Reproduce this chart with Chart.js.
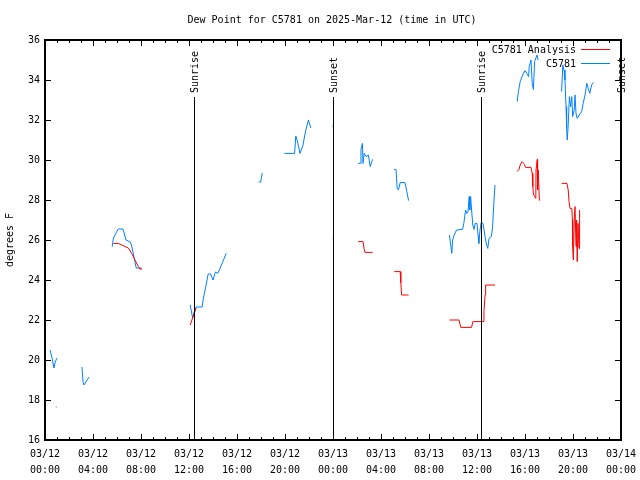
<!DOCTYPE html>
<html>
<head>
<meta charset="utf-8">
<script src="https://cdn.jsdelivr.net/npm/chart.js@4.4.1/dist/chart.umd.min.js"></script>
<style>
  html, body { margin: 0; padding: 0; background: #fff; }
  #wrap { width: 640px; height: 480px; }
</style>
</head>
<body>
<div id="wrap"><canvas id="dewChart" width="640" height="480"></canvas></div>
<script>
// hours since 03/12 00:00 UTC, null breaks the line
const analysisHours = [0.9, 0.97, 0.97,
  5.7, 6.1, 6.4, 6.67, 6.95, 7.22, 7.5, 7.78, 7.9, 8.1, 8.1,
  12.1, 12.3, 12.6, 12.6,
  23.98, 24.03, 24.03,
  26.1, 26.5, 26.6, 26.67, 27.3, 27.3,
  29.1, 29.6, 29.65, 29.72, 30.3, 30.3,
  33.7, 34.5, 34.65, 35.55, 35.65, 36.5, 36.58, 36.67, 36.72, 37.5, 37.5,
  39.35, 39.5, 39.6, 39.75, 39.9, 40.05, 40.5, 40.6, 40.65, 40.7, 40.8, 40.9, 40.92, 41.02, 41.05, 41.1, 41.2, 41.2,
  43.05, 43.5, 43.6, 43.67, 43.75, 43.9, 43.95, 43.97, 44.03, 44.1, 44.17, 44.25, 44.3, 44.35, 44.42, 44.5, 44.55];
const analysisDew = [17.65, 17.65, null,
  25.83, 25.83, 25.75, 25.67, 25.6, 25.33, 25.0, 24.67, 24.55, 24.55, null,
  21.75, 22.1, 22.6, null,
  26.1, 26.1, null,
  25.92, 25.92, 25.53, 25.38, 25.38, null,
  24.42, 24.42, 23.87, 23.25, 23.25, null,
  22.0, 22.0, 21.63, 21.63, 21.92, 21.92, 22.42, 23.25, 23.75, 23.75, null,
  29.42, 29.53, 29.75, 29.92, 29.83, 29.63, 29.63, 29.33, 28.67, 28.3, 28.17, 28.08, 29.5, 30.03, 28.5, 29.5, 27.97, null,
  28.83, 28.83, 28.5, 27.92, 27.58, 27.58, 27.0, 25.67, 25.0, 27.0, 27.67, 25.67, 27.0, 24.92, 26.83, 25.58, 27.5];

const obsHours = [0.42, 0.55, 0.65, 0.75, 0.85, 1.0, 1.0,
  3.08, 3.17, 3.25, 3.4, 3.67, 3.67,
  5.6, 5.7, 5.83, 6.1, 6.5, 6.75, 7.1, 7.2, 7.35, 7.6, 8.05, 8.05,
  12.1, 12.3, 12.4, 12.6, 13.1, 13.2, 13.4, 13.6, 13.8, 14.0, 14.2, 14.4, 14.6, 15.1, 15.1,
  17.8, 17.97, 18.1, 18.1,
  19.95, 20.8, 20.9, 21.05, 21.25, 21.5, 21.7, 21.95, 22.15, 22.15,
  23.95, 24.1, 24.1,
  26.1, 26.3, 26.33, 26.45, 26.5, 26.6, 26.75, 26.95, 27.1, 27.3, 27.3,
  29.1, 29.25, 29.35, 29.45, 29.6, 30.0, 30.15, 30.3, 30.3,
  33.7, 33.9, 33.97, 34.1, 34.3, 34.8, 34.9, 35.05, 35.15, 35.25, 35.35, 35.4, 35.47, 35.55, 35.65, 35.75, 35.85, 36.0, 36.1, 36.15, 36.25, 36.35, 36.5, 36.67, 36.8, 36.9, 37.0, 37.2, 37.3, 37.4, 37.5, 37.5,
  39.35, 39.45, 39.6, 39.8, 40.0, 40.15, 40.3, 40.35, 40.5, 40.6, 40.7, 40.8, 41.0, 41.1, 41.1,
  43.05, 43.15, 43.25, 43.33, 43.42, 43.47, 43.52, 43.6, 43.7, 43.8, 43.9, 43.97, 44.1, 44.17, 44.25, 44.35, 44.52, 44.72, 44.85, 45.0, 45.15, 45.27, 45.4, 45.55, 45.7];
const obsDew = [20.5, 20.2, 19.9, 19.6, 19.9, 20.1, null,
  19.65, 18.9, 18.75, 18.9, 19.15, null,
  25.67, 26.1, 26.25, 26.55, 26.55, 26.0, 25.9, 25.75, 25.35, 24.6, 24.6, null,
  22.75, 22.1, 22.35, 22.65, 22.65, 23.1, 23.67, 24.3, 24.3, 24.0, 24.4, 24.33, 24.6, 25.33, null,
  28.9, 28.9, 29.35, null,
  30.33, 30.33, 31.2, 30.9, 30.33, 30.75, 31.4, 32.0, 31.6, null,
  31.7, 31.7, null,
  29.83, 29.83, 30.53, 30.83, 29.83, 30.33, 30.17, 30.25, 29.67, 30.03, null,
  29.53, 29.53, 28.58, 28.5, 28.87, 28.87, 28.42, 27.97, null,
  26.25, 25.33, 26.0, 26.25, 26.5, 26.53, 26.83, 27.5, 27.33, 27.42, 28.17, 27.5, 28.17, 27.5, 26.75, 26.53, 26.83, 26.83, 26.17, 25.83, 26.5, 26.87, 26.83, 26.17, 25.75, 25.58, 26.08, 26.17, 26.67, 27.83, 28.75, null,
  32.92, 33.42, 33.92, 34.25, 34.47, 34.33, 34.17, 34.67, 35.0, 33.83, 33.53, 34.92, 35.25, 35.0, null,
  33.42, 34.75, 34.5, 34.0, 32.67, 31.58, 31.0, 31.75, 33.17, 32.67, 33.17, 32.17, 32.5, 33.25, 32.33, 32.08, 32.25, 32.42, 32.83, 33.25, 33.83, 33.58, 33.33, 33.75, 33.88];

const sunHours = [12.42, 24.0, 36.33, 48.0];
const sunLabels = ['Sunrise', 'Sunset', 'Sunrise', 'Sunset'];
const dayLabels = ['03/12', '03/12', '03/12', '03/12', '03/12', '03/12', '03/13', '03/13', '03/13', '03/13', '03/13', '03/13', '03/14'];
const timeLabels = ['00:00', '04:00', '08:00', '12:00', '16:00', '20:00', '00:00', '04:00', '08:00', '12:00', '16:00', '20:00', '00:00'];
const seriesNames = ['C5781 Analysis', 'C5781'];
const seriesColors = ['#ff0000', '#0080ff'];

const FONT = '10px "DejaVu Sans Mono", monospace';

function toPoints(hours, vals) {
  return hours.map((h, i) => ({ x: h, y: vals[i] }));
}

const framePlugin = {
  id: 'frame',
  afterDatasetsDraw(chart) {
    const { ctx, chartArea: a, scales } = chart;
    const xs = scales.x, ys = scales.y;
    ctx.save();
    ctx.strokeStyle = '#000';
    ctx.lineWidth = 1;
    ctx.beginPath();
    // hourly ticks top and bottom
    for (let h = 0; h <= 48; h++) {
      const px = Math.round(xs.getPixelForValue(h)) + 0.5;
      const len = h % 4 === 0 ? 6 : 3;
      ctx.moveTo(px, a.bottom); ctx.lineTo(px, a.bottom - len);
      ctx.moveTo(px, a.top); ctx.lineTo(px, a.top + len);
    }
    for (let v = 16; v <= 36; v += 2) {
      const py = Math.round(ys.getPixelForValue(v)) + 0.5;
      ctx.moveTo(a.left, py); ctx.lineTo(a.left + 6, py);
      ctx.moveTo(a.right, py); ctx.lineTo(a.right - 6, py);
    }
    ctx.stroke();
    ctx.lineWidth = 2;
    ctx.strokeRect(a.left, a.top, a.right - a.left, a.bottom - a.top);

    // sunrise / sunset markers
    ctx.font = FONT;
    ctx.fillStyle = '#000';
    ctx.lineWidth = 1;
    sunHours.forEach((h, i) => {
      const px = Math.round(xs.getPixelForValue(h)) + 0.5;
      ctx.beginPath();
      ctx.moveTo(px, 97); ctx.lineTo(px, a.bottom);
      ctx.stroke();
      ctx.save();
      ctx.translate(px, 93);
      ctx.rotate(-Math.PI / 2);
      ctx.textAlign = 'left';
      ctx.textBaseline = 'middle';
      ctx.fillText(sunLabels[i], 0, 1);
      ctx.restore();
    });

    // legend, text then line
    ctx.textAlign = 'right';
    ctx.textBaseline = 'middle';
    seriesNames.forEach((name, i) => {
      const y = 49 + i * 14;
      ctx.fillStyle = '#000';
      ctx.fillText(name, 576, y + 1);
      ctx.strokeStyle = seriesColors[i];
      ctx.beginPath();
      ctx.moveTo(581, y + 0.5); ctx.lineTo(610, y + 0.5);
      ctx.stroke();
    });

    // title and y axis title
    ctx.fillStyle = '#000';
    ctx.textAlign = 'center';
    ctx.fillText('Dew Point for C5781 on 2025-Mar-12 (time in UTC)', 332, 20);
    ctx.save();
    ctx.translate(10, 240);
    ctx.rotate(-Math.PI / 2);
    ctx.fillText('degrees F', 0, 0);
    ctx.restore();
    ctx.restore();
  }
};

new Chart(document.getElementById('dewChart'), {
  type: 'line',
  data: {
    datasets: [
      { label: seriesNames[0], data: toPoints(analysisHours, analysisDew), borderColor: seriesColors[0] },
      { label: seriesNames[1], data: toPoints(obsHours, obsDew), borderColor: seriesColors[1] }
    ]
  },
  options: {
    responsive: false,
    animation: false,
    spanGaps: false,
    elements: {
      line: { borderWidth: 1, tension: 0, fill: false },
      point: { radius: 0, hoverRadius: 0 }
    },
    layout: { padding: { top: 40, right: 19, left: 0, bottom: 0 } },
    plugins: { legend: { display: false }, title: { display: false }, tooltip: { enabled: false } },
    scales: {
      x: {
        type: 'linear', min: 0, max: 48,
        grid: { display: false, drawTicks: false },
        border: { display: false },
        afterFit(scale) { scale.height = 40; scale.paddingLeft = 0; scale.paddingRight = 0; },
        ticks: {
          stepSize: 4, autoSkip: false, maxRotation: 0, padding: 6,
          color: '#000',
          font: { family: '"DejaVu Sans Mono", monospace', size: 10, lineHeight: 1.6 },
          callback: (v) => { const i = Math.round(v / 4); return [dayLabels[i], timeLabels[i]]; }
        }
      },
      y: {
        min: 16, max: 36,
        grid: { display: false, drawTicks: false },
        border: { display: false },
        afterFit(scale) { scale.width = 45; },
        ticks: {
          stepSize: 2, padding: 5, color: '#000',
          font: { family: '"DejaVu Sans Mono", monospace', size: 10 }
        }
      }
    }
  },
  plugins: [framePlugin]
});
</script>
</body>
</html>
